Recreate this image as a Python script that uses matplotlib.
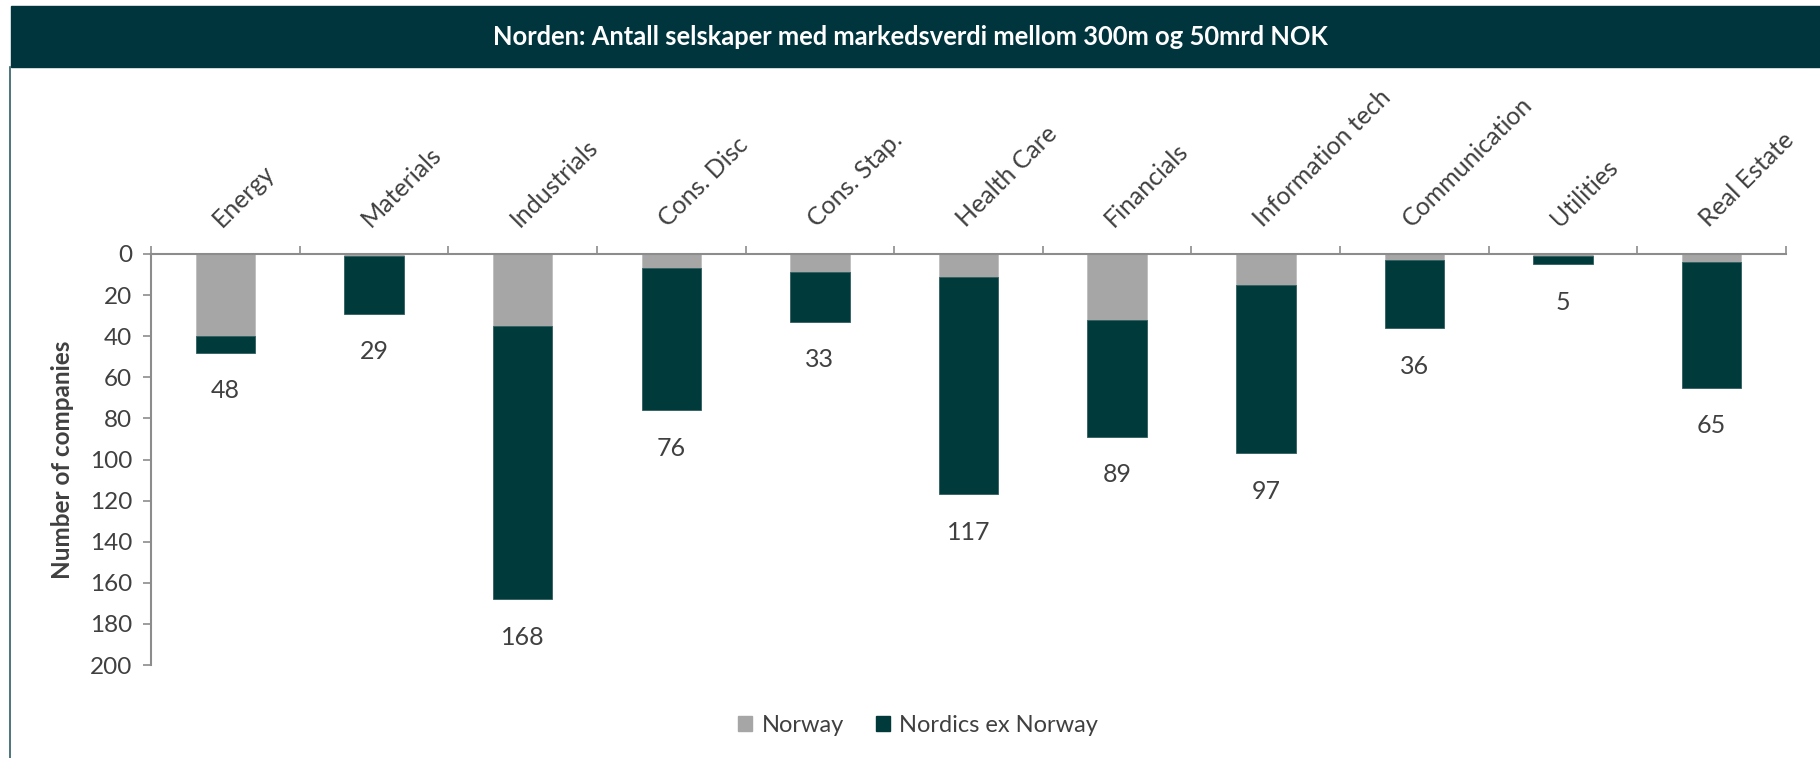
import numpy as np
import matplotlib
matplotlib.use("Agg")
import matplotlib.pyplot as plt
import matplotlib.transforms as mtransforms
from matplotlib.patches import Rectangle, Patch
from matplotlib.lines import Line2D

# Data
sektorer = ["Energy", "Materials", "Industrials", "Cons. Disc", "Cons. Stap.",
            "Health Care", "Financials", "Information tech", "Communication",
            "Utilities", "Real Estate"]
norway = [40, 1, 35, 7, 9, 11, 32, 15, 3, 1, 4]
nordics_ex_norway = [8, 28, 133, 69, 24, 106, 57, 82, 33, 4, 61]
y_ticks = [0, 20, 40, 60, 80, 100, 120, 140, 160, 180, 200]

tittel = "Norden: Antall selskaper med markedsverdi mellom 300m og 50mrd NOK"
farge_tittel = "#00353E"
farge_norge = "#A6A6A6"
farge_norden = "#013A3B"
farge_tekst = "#404040"
farge_akse = "#8C8C8C"

plt.rcParams["font.family"] = ["Lato", "DejaVu Sans"]
plt.rcParams["text.color"] = farge_tekst

W, H = 1820, 758
fig = plt.figure(figsize=(W / 100, H / 100), dpi=100)

# Tittel-banner
fig.patches.append(Rectangle((11 / W, 1 - 67 / H), 1 - 11 / W, 61 / H,
                             transform=fig.transFigure, color=farge_tittel, zorder=0))
fig.text(0.5, 1 - 37 / H, tittel, color="white", weight="bold", fontsize=18.4,
         ha="center", va="center")
# tynn kantlinje til venstre
fig.add_artist(Line2D([10 / W, 10 / W], [0, 1 - 67 / H], transform=fig.transFigure,
                      color="#2E5E66", lw=1.2))

ax = fig.add_axes([151 / W, 1 - 665 / H, 1635 / W, 411 / H])
x = np.arange(len(sektorer))
ax.bar(x, norway, width=0.4, color=farge_norge, edgecolor="#BDBDBD", linewidth=0.6,
       label="Norway")
ax.bar(x, nordics_ex_norway, width=0.4, bottom=norway, color=farge_norden,
       edgecolor="#2F5F60", linewidth=0.6, label="Nordics ex Norway")

totaler = [a + b for a, b in zip(norway, nordics_ex_norway)]
for i, t in enumerate(totaler):
    ax.annotate(str(t), (i, t), xytext=(0, -27.4), textcoords="offset points",
                ha="center", va="center", fontsize=18, color=farge_tekst)

ax.set_xlim(-0.5, len(sektorer) - 0.5)
ax.set_ylim(200, 0)
ax.set_yticks(y_ticks)
ax.tick_params(axis="y", labelsize=17.5, colors=farge_akse, labelcolor=farge_tekst,
               length=5.5, width=1.2, pad=8)

ax.xaxis.tick_top()
ax.set_xticks(np.arange(-0.5, len(sektorer), 1))
ax.set_xticklabels([])
ax.tick_params(axis="x", colors=farge_akse, length=5.5, width=1.2)

for side in ["right", "bottom"]:
    ax.spines[side].set_visible(False)
for side in ["left", "top"]:
    ax.spines[side].set_color(farge_akse)
    ax.spines[side].set_linewidth(1.5)

# kategorinavn skraatt over aksen
blend = mtransforms.blended_transform_factory(ax.transData, ax.transAxes)
trans = mtransforms.offset_copy(blend, fig=fig, x=-3, y=26, units="dots")
for i, navn in enumerate(sektorer):
    ax.text(i, 1, navn, transform=trans, rotation=45, rotation_mode="anchor",
            ha="left", va="baseline", fontsize=18, color=farge_tekst)

ax.set_ylabel("Number of companies", fontsize=17.5, weight="bold", color=farge_tekst)
ax.yaxis.label.set_va("center")
ax.yaxis.set_label_coords((63 - 151) / 1635, 0.5)

handles = [Patch(color=farge_norge, label="Norway"),
           Patch(color=farge_norden, label="Nordics ex Norway")]
fig.legend(handles=handles, loc="center", bbox_to_anchor=(918 / W, 1 - 725 / H),
           ncol=2, frameon=False, fontsize=17, handlelength=0.6, handleheight=0.6,
           handletextpad=0.4, columnspacing=1.35)

fig.savefig("out.png", dpi=100)
